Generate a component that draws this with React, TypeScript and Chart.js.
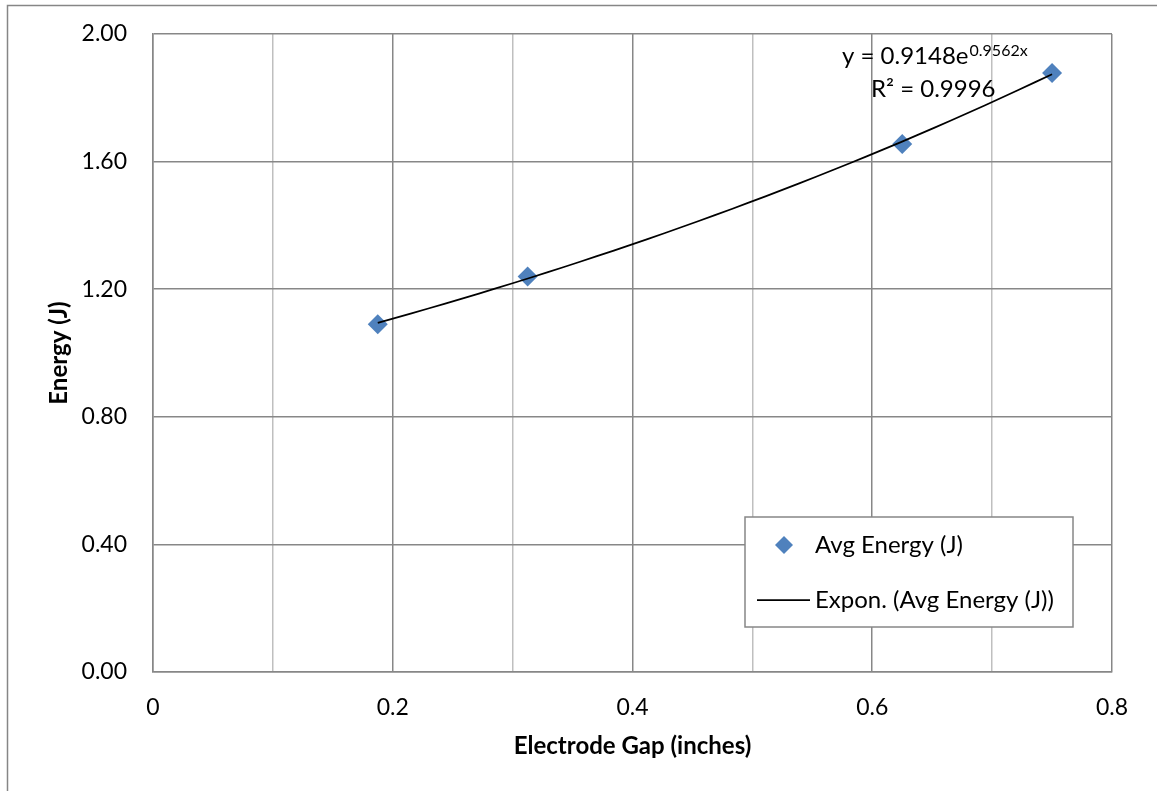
import React, { useEffect, useRef } from "react";
import { Chart, registerables } from "chart.js";

Chart.register(...registerables);

// ---- data ----
const gapInches = [0.1875, 0.3125, 0.625, 0.75];
const avgEnergy = [1.09, 1.24, 1.655, 1.878];
const trendCoefA = 0.9148;
const trendCoefB = 0.9562;
const trendLabel = "y = 0.9148e";
const trendExpLabel = "0.9562x";
const rSquaredLabel = "R² = 0.9996";
const seriesName = "Avg Energy (J)";
const trendName = "Expon. (Avg Energy (J))";
const xTitle = "Electrode Gap (inches)";
const yTitle = "Energy (J)";

// trendline from the displayed regression equation
const trendSteps = 40;
const trendPoints = Array.from({ length: trendSteps + 1 }, (_, i) => {
  const x0 = gapInches[0];
  const x1 = gapInches[gapInches.length - 1];
  const x = x0 + ((x1 - x0) * i) / trendSteps;
  return { x, y: trendCoefA * Math.exp(trendCoefB * x) };
});

const FONT = "Lato";
const BLUE = "#4f81bd";
const GRID_DARK = "#878787";
const GRID_LIGHT = "#bfbfbf";

function diamond(ctx: CanvasRenderingContext2D, x: number, y: number, r: number) {
  ctx.beginPath();
  ctx.moveTo(x, y - r);
  ctx.lineTo(x + r, y);
  ctx.lineTo(x, y + r);
  ctx.lineTo(x - r, y);
  ctx.closePath();
  ctx.fill();
}

const decor = {
  id: "decor",
  beforeDraw(chart: any) {
    const ctx = chart.ctx as CanvasRenderingContext2D;
    ctx.save();
    ctx.fillStyle = "#fff";
    ctx.fillRect(0, 0, chart.width, chart.height);
    ctx.strokeStyle = "#868686";
    ctx.lineWidth = 1.5;
    ctx.beginPath();
    ctx.moveTo(7.5, chart.height);
    ctx.lineTo(7.5, 5.5);
    ctx.lineTo(chart.width, 5.5);
    ctx.stroke();
    ctx.restore();
  },
  afterDraw(chart: any) {
    const ctx = chart.ctx as CanvasRenderingContext2D;
    const a = chart.chartArea;
    ctx.save();
    ctx.fillStyle = "#000";
    // axis titles
    ctx.font = `bold 24px ${FONT}`;
    ctx.textAlign = "center";
    ctx.textBaseline = "middle";
    ctx.fillText(xTitle, (a.left + a.right) / 2, 746);
    ctx.save();
    ctx.translate(59, (a.top + a.bottom) / 2);
    ctx.rotate(-Math.PI / 2);
    ctx.fillText(yTitle, 0, 0);
    ctx.restore();

    // trendline equation
    ctx.textAlign = "left";
    ctx.textBaseline = "alphabetic";
    ctx.font = `24px ${FONT}`;
    ctx.fillText(trendLabel, 842, 64);
    const w = ctx.measureText(trendLabel).width;
    ctx.font = `16px ${FONT}`;
    ctx.fillText(trendExpLabel, 842 + w + 1, 56);
    ctx.font = `24px ${FONT}`;
    ctx.fillText(rSquaredLabel, 871, 97);

    // legend
    ctx.fillStyle = "#fff";
    ctx.fillRect(745, 517, 328, 110);
    ctx.strokeStyle = "#878787";
    ctx.lineWidth = 1.5;
    ctx.strokeRect(745, 517, 328, 110);
    ctx.fillStyle = BLUE;
    diamond(ctx, 784, 545, 9);
    ctx.strokeStyle = "#000";
    ctx.lineWidth = 1.75;
    ctx.beginPath();
    ctx.moveTo(757, 600);
    ctx.lineTo(810, 600);
    ctx.stroke();
    ctx.fillStyle = "#000";
    ctx.font = `24px ${FONT}`;
    ctx.textBaseline = "middle";
    ctx.fillText(seriesName, 815, 545);
    ctx.fillText(trendName, 815, 600);
    ctx.restore();
  },
};

export default function App() {
  const ref = useRef<HTMLCanvasElement>(null);
  useEffect(() => {
    if (!ref.current) return;
    const chart = new Chart(ref.current, {
      type: "scatter",
      data: {
        datasets: [
          {
            label: seriesName,
            data: gapInches.map((x, i) => ({ x, y: avgEnergy[i] })),
            pointStyle: "rectRot",
            pointRadius: 10,
            pointHoverRadius: 10,
            backgroundColor: BLUE,
            borderColor: BLUE,
            borderWidth: 0,
            showLine: false,
            order: 1,
          },
          {
            label: trendName,
            data: trendPoints,
            showLine: true,
            pointRadius: 0,
            borderColor: "#000",
            borderWidth: 1.75,
            backgroundColor: "#000",
            tension: 0,
            order: 0,
          },
        ],
      },
      options: {
        responsive: false,
        animation: false,
        events: [],
        layout: { padding: { top: 34, right: 45, left: 0, bottom: 0 } },
        plugins: {
          legend: { display: false },
          tooltip: { enabled: false },
          title: { display: false },
        },
        scales: {
          x: {
            type: "linear",
            min: 0,
            max: 0.8,
            afterFit: (s: any) => {
              s.height = 119;
              s.paddingLeft = 0;
              s.paddingRight = 0;
            },
            afterBuildTicks: (s: any) => {
              s.ticks = [0, 1, 2, 3, 4, 5, 6, 7, 8].map((v) => ({ value: v / 10 }));
            },
            ticks: {
              autoSkip: false,
              maxRotation: 0,
              padding: 22,
              color: "#000",
              font: { family: FONT, size: 23 },
              callback: (value: any) => {
                const v = Math.round(Number(value) * 10);
                return v % 2 === 0 ? String(v / 10) : "";
              },
            },
            grid: {
              drawTicks: false,
              tickLength: 0,
              lineWidth: 1.5,
              color: (c: any) => {
                const v = Math.round(Number(c.tick?.value ?? 0) * 10);
                return v % 2 === 0 ? GRID_DARK : GRID_LIGHT;
              },
            },
            border: { display: true, color: GRID_DARK, width: 1.5 },
          },
          y: {
            type: "linear",
            min: 0,
            max: 2,
            afterFit: (s: any) => {
              s.width = 153;
              s.paddingTop = 0;
              s.paddingBottom = 0;
            },
            ticks: {
              stepSize: 0.4,
              padding: 26,
              color: "#000",
              font: { family: FONT, size: 23 },
              callback: (value: any) => Number(value).toFixed(2),
            },
            grid: {
              drawTicks: false,
              tickLength: 0,
              lineWidth: 1.5,
              color: GRID_DARK,
            },
            border: { display: true, color: GRID_DARK, width: 1.5 },
          },
        },
      },
      plugins: [decor],
    });
    return () => chart.destroy();
  }, []);
  return (
    <div style={{ position: "absolute", left: 0, top: 0, width: 1157, height: 791 }}>
      <canvas ref={ref} width={1157} height={791} style={{ display: "block" }} />
    </div>
  );
}
